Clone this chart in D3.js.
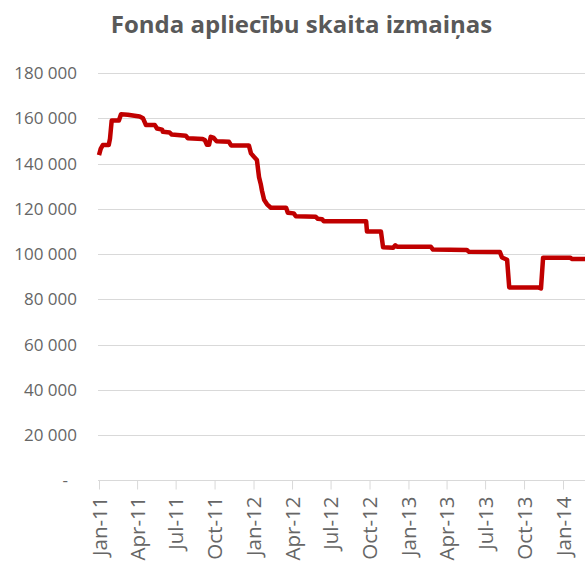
<!DOCTYPE html>
<html><head><meta charset="utf-8">
<script src="https://cdn.jsdelivr.net/npm/d3@7"></script>
<style>body{margin:0;background:#fff} svg{display:block}</style>
</head><body><svg id="c" width="585" height="564"></svg>
<script>
const title = "Fonda apliecību skaita izmaiņas";
const dates = ["2011-01-01","2011-01-05","2011-01-10","2011-01-24","2011-01-27","2011-01-31","2011-02-17","2011-02-22","2011-03-10","2011-04-07","2011-04-15","2011-04-22","2011-05-13","2011-05-18","2011-05-30","2011-06-01","2011-06-17","2011-06-22","2011-07-25","2011-07-30","2011-09-03","2011-09-08","2011-09-13","2011-09-18","2011-09-22","2011-09-29","2011-10-06","2011-11-04","2011-11-09","2011-12-21","2011-12-26","2012-01-02","2012-01-09","2012-01-14","2012-01-18","2012-01-21","2012-01-26","2012-02-02","2012-02-11","2012-03-18","2012-03-22","2012-04-05","2012-04-10","2012-05-27","2012-06-01","2012-06-11","2012-06-15","2012-09-23","2012-09-25","2012-10-28","2012-11-02","2012-11-26","2012-12-01","2012-12-05","2013-02-23","2013-02-28","2013-05-19","2013-05-24","2013-08-05","2013-08-10","2013-08-22","2013-08-27","2013-11-03","2013-11-10","2013-11-15","2014-01-18","2014-01-23","2014-02-22"];
const values = [143700,146500,148200,148200,151000,159000,159000,161800,161600,160800,160000,157000,157000,155500,155000,154000,153700,152800,152300,151200,150800,150400,148300,148300,151800,151300,149800,149600,148000,148000,144500,143000,141600,134000,131000,128000,124000,122000,120500,120500,118300,118000,116700,116500,115600,115400,114500,114500,110000,110000,103000,102800,103900,103300,103200,102000,101800,101000,100900,98500,97500,85300,85300,84800,98400,98400,97800,97800];
const yTickValues = [0,20000,40000,60000,80000,100000,120000,140000,160000,180000];
const xTickLabels = ["2011-01-01","2011-04-01","2011-07-01","2011-10-01","2012-01-01","2012-04-01","2012-07-01","2012-10-01","2013-01-01","2013-04-01","2013-07-01","2013-10-01","2014-01-01"];

const parse = d3.utcParse("%Y-%m-%d");
const data = dates.map((d,i)=>({date:parse(d), value:values[i]}));
const svg = d3.select("#c");
const x = d3.scaleUtc().domain([parse("2011-01-01"), parse("2014-02-22")]).range([99,585]);
const y = d3.scaleLinear().domain([0,180000]).range([480.5,73]);
const loc = d3.formatLocale({decimal:",", thousands:" ", grouping:[3], currency:["",""]});
const fmt = loc.format(",");
const grey = "#666666";
const labelFont = "'Open Sans', sans-serif";

// gridlines
svg.append("g").selectAll("line").data(yTickValues.filter(d=>d>0)).join("line")
  .attr("x1",98).attr("x2",585).attr("y1",d=>Math.round(y(d))+0.5).attr("y2",d=>Math.round(y(d))+0.5)
  .attr("stroke","#d9d9d9").attr("stroke-width",1);

// y labels
const ya = svg.append("g").attr("transform","translate(98,0)")
  .call(d3.axisLeft(y).tickValues(yTickValues).tickSize(0).tickPadding(21).tickFormat(d=>d===0?"-":fmt(d)));
ya.select(".domain").remove();
ya.selectAll("text").attr("fill",grey).style("font-family",labelFont).style("font-size","17px");
ya.selectAll(".tick").filter(d=>d===0).select("text").attr("x",-30);

// x axis
const xa = svg.append("g").attr("transform","translate(0,480.5)")
  .call(d3.axisBottom(x).tickValues(xTickLabels.map(parse)).tickSize(9).tickFormat(d3.utcFormat("%b-%y")));
xa.select(".domain").attr("d","M98,0H585").attr("stroke","#d9d9d9");
xa.selectAll(".tick line").attr("stroke","#d9d9d9");
xa.selectAll("text").attr("fill",grey).style("font-family",labelFont).style("font-size","20.5px")
  .attr("transform","rotate(-90)").attr("text-anchor","end").attr("x",-16).attr("y",0).attr("dy","0.35em");

// line
svg.append("path").datum(data)
  .attr("d", d3.line().x(d=>x(d.date)).y(d=>y(d.value)))
  .attr("fill","none").attr("stroke","#c00000").attr("stroke-width",4.5).attr("stroke-linejoin","round");

// title
svg.append("text").attr("x",301.5).attr("y",33).attr("text-anchor","middle")
  .attr("fill","#595959").style("font-family","'Open Sans', sans-serif").style("font-weight","bold").style("font-size","24px")
  .text(title);
</script></body></html>
